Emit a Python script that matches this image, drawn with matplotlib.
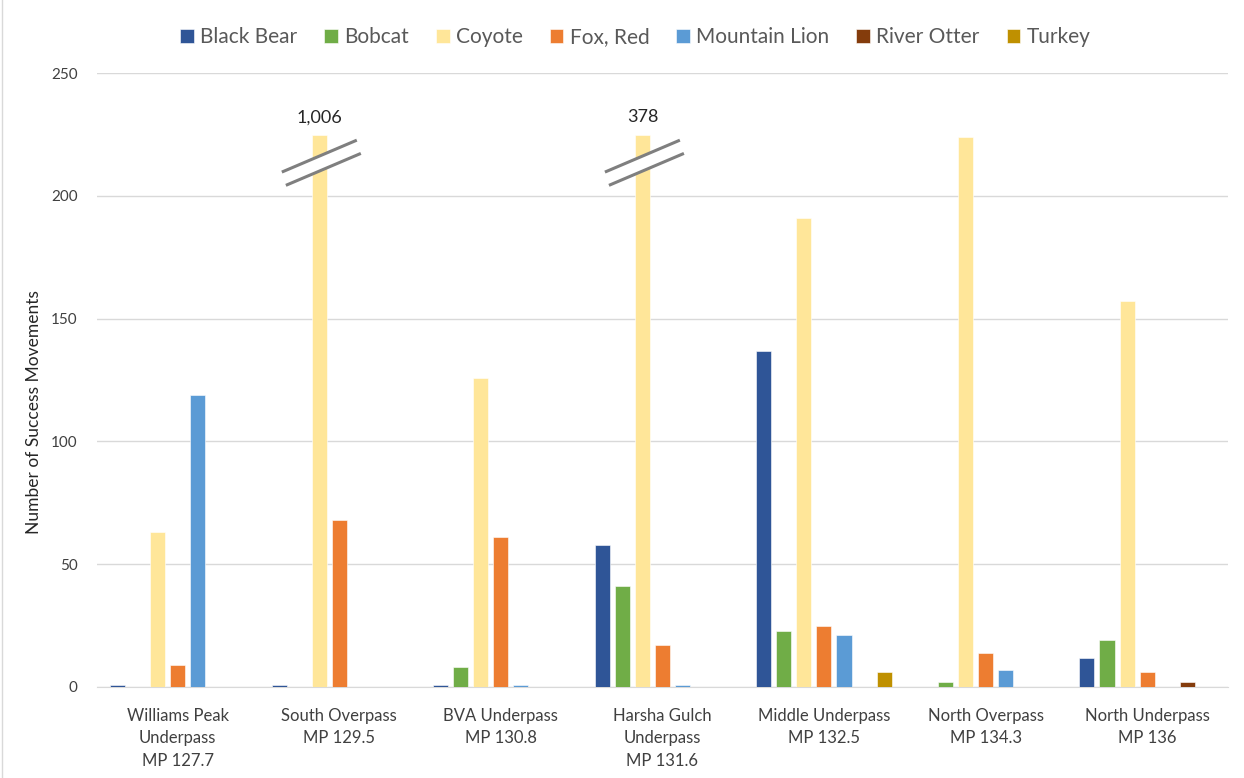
import numpy as np
import matplotlib
matplotlib.use("Agg")
import matplotlib.pyplot as plt
from matplotlib.patches import Polygon
from matplotlib.lines import Line2D

# Crossing counts per structure
sites = ["Williams Peak\nUnderpass\nMP 127.7", "South Overpass\nMP 129.5", "BVA Underpass\nMP 130.8",
         "Harsha Gulch\nUnderpass\nMP 131.6", "Middle Underpass\nMP 132.5", "North Overpass\nMP 134.3",
         "North Underpass\nMP 136"]
species = ["Black Bear", "Bobcat", "Coyote", "Fox, Red", "Mountain Lion", "River Otter", "Turkey"]
black_bear    = [1, 1, 1, 58, 137, 0, 12]
bobcat        = [0, 0, 8, 41, 23, 2, 19]
coyote        = [63, 1006, 126, 378, 191, 224, 157]
fox_red       = [9, 68, 61, 17, 25, 14, 6]
mountain_lion = [119, 0, 1, 1, 21, 7, 0]
river_otter   = [0, 0, 0, 0, 0, 0, 2]
turkey        = [0, 0, 0, 0, 6, 0, 0]

colors = ["#2F5597", "#70AD47", "#FFE699", "#ED7D31", "#5B9BD5", "#843C0C", "#BF9000"]
series = [black_bear, bobcat, coyote, fox_red, mountain_lion, river_otter, turkey]

BREAK_AT = 225   # bars taller than this get cut with a break mark
YMAX = 250

plt.rcParams['font.family'] = ['Lato', 'DejaVu Sans']

fig = plt.figure(figsize=(12.44, 7.78), dpi=100)
ax = fig.add_axes([0.078, 0.117, 0.909, 0.789])

x = np.arange(len(sites))
step = 0.124
width = 0.093
for i, (name, vals, c) in enumerate(zip(species, series, colors)):
    vals = np.array(vals)
    ax.bar(x + (i - 3) * step, np.minimum(vals, BREAK_AT), width, color=c, label=name,
           edgecolor="white", linewidth=0.4, zorder=3)

# break marks + value labels on cut bars
coy = np.array(coyote)
dx, rise = 0.232, 13
y1, y2 = 216.2, 210.8
shift = 0.025
for j in np.where(coy > BREAK_AT)[0]:
    xc = x[j] + (2 - 3) * step
    gap = Polygon([[xc - dx, y1 - rise / 2], [xc + dx, y1 + rise / 2],
                   [xc + dx + shift, y2 + rise / 2], [xc - dx + shift, y2 - rise / 2]],
                  closed=True, facecolor="white", edgecolor="none", zorder=4)
    ax.add_patch(gap)
    ax.plot([xc - dx, xc + dx], [y1 - rise / 2, y1 + rise / 2],
            color="#7F7F7F", lw=2.2, zorder=5, solid_capstyle="butt")
    ax.plot([xc - dx + shift, xc + dx + shift], [y2 - rise / 2, y2 + rise / 2],
            color="#7F7F7F", lw=2.2, zorder=5, solid_capstyle="butt")
    ax.text(xc, 232, f"{coy[j]:,}", ha="center", va="center", fontsize=13, color="#262626")

ax.set_xlim(-0.5, len(sites) - 0.5)
ax.set_ylim(0, YMAX)
ax.set_yticks(np.arange(0, YMAX + 1, 50))
ax.yaxis.grid(True, color="#D9D9D9", lw=1, zorder=0)
ax.set_axisbelow(True)
for s in ["top", "right", "left"]:
    ax.spines[s].set_visible(False)
ax.spines["bottom"].set_color("#D9D9D9")
ax.tick_params(axis="both", length=0, colors="#404040")
ax.tick_params(axis="y", labelsize=11, pad=14)
ax.set_xticks(x)
ax.set_xticklabels(sites, fontsize=12, linespacing=1.5)
ax.tick_params(axis="x", pad=15)
ax.set_ylabel("Number of Success Movements", fontsize=12.5, color="#262626")
ax.yaxis.set_label_coords(-0.049, 0.448)

ax.legend(loc="upper center", bbox_to_anchor=(0.476, 1.105), ncol=7, frameon=False,
          fontsize=15, handlelength=0.65, handleheight=0.65, handletextpad=0.3,
          columnspacing=1.3, labelcolor="#595959")

# thin chart-area border on the left edge
fig.add_artist(Line2D([0.002, 0.002], [0, 1], transform=fig.transFigure, color="#D9D9D9", lw=1))

fig.savefig("out.png", dpi=100)
